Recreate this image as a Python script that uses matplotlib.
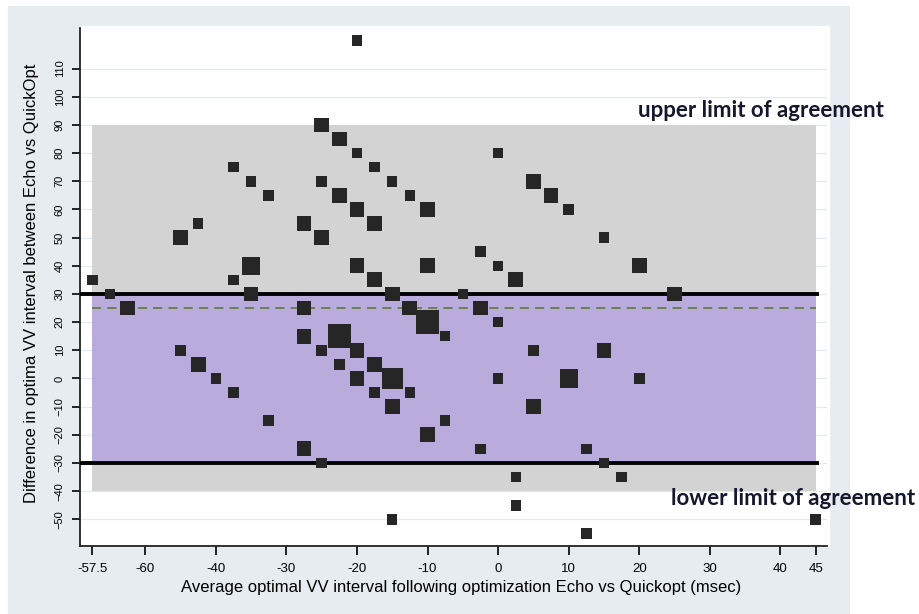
from matplotlib import pyplot as plt
from matplotlib import font_manager
from matplotlib.patches import Rectangle
import numpy as np

# Bland-Altman style plot, Echo vs QuickOpt
avg_vv = [-57.5, -55, -52.5, -45, -45, -42.5, -42.5, -40, -37.5, -37.5, -37.5,
          -35, -35, -35, -32.5, -32.5, -27.5, -27.5, -27.5, -27.5,
          -25, -25, -25, -25, -25, -22.5, -22.5, -22.5, -22.5,
          -20, -20, -20, -20, -20, -20, -17.5, -17.5, -17.5, -17.5, -17.5,
          -15, -15, -15, -15, -15, -12.5, -12.5, -12.5, -10, -10, -10, -10,
          -7.5, -7.5, -5, -2.5, -2.5, -2.5, 0, 0, 0, 0, 2.5, 2.5, 2.5,
          5, 5, 5, 7.5, 10, 10, 12.5, 12.5, 15, 15, 15, 17.5, 20, 20, 25, 45]
diff_vv = [35, 30, 25, 50, 10, 55, 5, 0, 75, 35, -5,
           70, 40, 30, 65, -15, 55, 25, 15, -25,
           90, 70, 50, 10, -30, 85, 65, 15, 5,
           120, 80, 60, 40, 10, 0, 75, 55, 35, 5, -5,
           70, 30, 0, -10, -50, 65, 25, -5, 60, 40, 20, -20,
           15, -15, 30, 45, 25, -25, 80, 40, 20, 0, 35, -35, -45,
           70, 10, -10, 65, 60, 0, -25, -55, 50, 10, -30, -35, 40, 0, 30, -50]
freq = [1, 1, 2, 2, 1, 1, 2, 1, 1, 1, 1,
        1, 3, 2, 1, 1, 2, 2, 2, 2,
        2, 1, 2, 1, 1, 2, 2, 5, 1,
        1, 1, 2, 2, 2, 2, 1, 2, 2, 2, 1,
        1, 2, 4, 2, 1, 1, 2, 1, 2, 2, 5, 2,
        1, 1, 1, 1, 2, 1, 1, 1, 1, 1, 2, 1, 1,
        2, 1, 2, 2, 1, 3, 1, 1, 1, 2, 1, 1, 2, 1, 2, 1]

mean_diff = 25
upper_loa = 90
lower_loa = -40
limit_line = 30
data_range = [-57.5, 45]

x_ticks = [-57.5, -50, -40, -30, -20, -10, 0, 10, 20, 30, 40, 45]
x_tick_labels = ["-57.5", "-60", "-40", "-30", "-20", "-10", "0", "10", "20", "30", "40", "45"]
y_ticks = list(range(-50, 111, 10))


def pick_font(names):
    for n in names:
        try:
            font_manager.findfont(n, fallback_to_default=False)
            return n
        except ValueError:
            pass
    return "DejaVu Sans"


narrow = pick_font(["Liberation Sans Narrow", "Liberation Sans"])
plain = pick_font(["Liberation Sans"])
bold_font = pick_font(["Lato", "Open Sans"])

W, H = 919, 614
fig = plt.figure(figsize=(W / 100, H / 100), dpi=100, facecolor="white")

# stata graph region and plot region
fig.add_artist(Rectangle((8 / W, 0), (849 - 8) / W, (614 - 6) / H,
                         transform=fig.transFigure, color="#e6ecef", zorder=-2))
fig.add_artist(Rectangle((80 / W, (614 - 546) / H), (829 - 80) / W, (546 - 26) / H,
                         transform=fig.transFigure, color="white", zorder=-1))

ax = fig.add_axes([80 / W, (614 - 546) / H, (827 - 80) / W, (546 - 28) / H])
ax.set_facecolor("white")
ax.set_xlim(-59.24, 46.6)
ax.set_ylim(-59.46, 124.4)

ax.set_yticks(y_ticks)
ax.grid(axis="y", color="#e2eaee", linewidth=0.9, zorder=0)
ax.set_axisbelow(True)

ax.fill_between(data_range, lower_loa, upper_loa, color="#d3d3d3", linewidth=0, zorder=1)
ax.fill_between(data_range, -limit_line, limit_line, color="#b9acdd", linewidth=0, zorder=2)
ax.hlines([limit_line, -limit_line], ax.get_xlim()[0], 45.5, color="black", linewidth=2.8, zorder=3)
ax.hlines(mean_diff, data_range[0], data_range[1], color="#56762a", linewidth=1.1,
          linestyles=(0, (6, 4)), zorder=3)

sizes = 57 * np.array(freq)
ax.scatter(avg_vv, diff_vv, s=sizes, marker="s", color="#262626", linewidths=0, zorder=4)

ax.set_xticks(x_ticks)
ax.set_xticklabels(x_tick_labels, fontfamily=plain, fontsize=9.5)
for lab in ax.get_yticklabels():
    lab.set_fontfamily(narrow)
ax.tick_params(axis="y", labelrotation=90, labelsize=8, length=6, width=1.2, pad=5)
ax.tick_params(axis="x", length=6.5, width=1.2, pad=6)
for lab in ax.get_yticklabels():
    lab.set_verticalalignment("center")

for side in ["top", "right"]:
    ax.spines[side].set_visible(False)
for side in ["left", "bottom"]:
    ax.spines[side].set_color("#222222")
    ax.spines[side].set_linewidth(1.3)

ax.set_xlabel("Average optimal VV interval following optimization Echo vs Quickopt (msec)",
              fontfamily=narrow, fontsize=12)
ax.xaxis.set_label_coords((461.5 - 80) / (827 - 80), (546 - 580) / (546 - 28))
ax.set_ylabel("Difference in optima VV interval between Echo vs QuickOpt",
              fontfamily=narrow, fontsize=12)
ax.yaxis.set_label_coords((39 - 80) / (827 - 80), (546 - 283.5) / (546 - 28))

fig.text(638 / W, 1 - 117 / H, "upper limit of agreement", fontfamily=bold_font,
         fontweight="bold", fontsize=16, color="#15182c", ha="left", va="baseline")
fig.text(671 / W, 1 - 505 / H, "lower limit of agreement", fontfamily=bold_font,
         fontweight="bold", fontsize=16, color="#15182c", ha="left", va="baseline")

plt.savefig("out.png", dpi=100, facecolor="white")
